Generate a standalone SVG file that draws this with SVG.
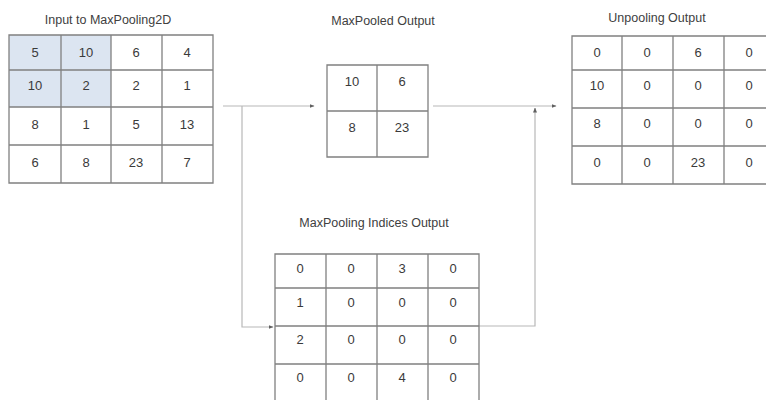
<svg xmlns="http://www.w3.org/2000/svg" width="766" height="400" viewBox="0 0 766 400">
<defs>
<style>
.grid{fill:none;stroke:#808080;stroke-width:1.3}
.cell{fill:#ffffff}
.hl{fill:#dce5f1}
.num{font-family:"Liberation Sans",Arial,sans-serif;font-size:13px;fill:#3a3a3a;text-anchor:middle}
.title{font-family:"Liberation Sans",Arial,sans-serif;font-size:12.5px;fill:#404040;text-anchor:middle}
.conn{fill:none;stroke:#b8b8b8;stroke-width:1.2}
</style>
<marker id="ah" viewBox="0 0 10 10" refX="9" refY="5" markerWidth="5" markerHeight="5" orient="auto" markerUnits="userSpaceOnUse">
<path d="M0,1 L10,5 L0,9 z" fill="#606060"/>
</marker>
</defs>
<rect width="766" height="400" fill="#ffffff"/>

<g id="connectors">
<path class="conn" d="M223,106 H314" marker-end="url(#ah)"/>
<path class="conn" d="M242,106 V327 H273" marker-end="url(#ah)"/>
<path class="conn" d="M433,106 H556" marker-end="url(#ah)"/>
<path class="conn" d="M479,326 H535 V108" marker-end="url(#ah)"/>
</g>

<g id="input">
<text class="title" x="108" y="24">Input to MaxPooling2D</text>
<rect class="hl" x="9" y="35" width="102" height="72"/>
<path class="grid" d="M9,35 H213 V183 H9 Z M61,35 V183 M111,35 V183 M162,35 V183 M9,70 H213 M9,107 H213 M9,145 H213"/>
<g class="num">
<text x="35" y="57">5</text><text x="86" y="57">10</text><text x="136" y="57">6</text><text x="187" y="57">4</text>
<text x="35" y="90">10</text><text x="86" y="90">2</text><text x="136" y="90">2</text><text x="187" y="90">1</text>
<text x="35" y="129">8</text><text x="86" y="129">1</text><text x="136" y="129">5</text><text x="187" y="129">13</text>
<text x="35" y="167">6</text><text x="86" y="167">8</text><text x="136" y="167">23</text><text x="187" y="167">7</text>
</g>
</g>

<g id="maxpooled">
<text class="title" x="383" y="25">MaxPooled Output</text>
<path class="grid" d="M327,65 H428 V157 H327 Z M377,65 V157 M327,111 H428"/>
<g class="num">
<text x="352" y="86">10</text><text x="402" y="86">6</text>
<text x="352" y="132">8</text><text x="402" y="132">23</text>
</g>
</g>

<g id="unpooling">
<text class="title" x="657" y="22">Unpooling Output</text>
<path class="grid" d="M775,36 H572 V184 H775 M622,36 V184 M673,36 V184 M724,36 V184 M572,70 H775 M572,108 H775 M572,146 H775"/>
<g class="num">
<text x="597" y="57">0</text><text x="647" y="57">0</text><text x="698" y="57">6</text><text x="749" y="57">0</text>
<text x="597" y="90">10</text><text x="647" y="90">0</text><text x="698" y="90">0</text><text x="749" y="90">0</text>
<text x="597" y="128">8</text><text x="647" y="128">0</text><text x="698" y="128">0</text><text x="749" y="128">0</text>
<text x="597" y="167">0</text><text x="647" y="167">0</text><text x="698" y="167">23</text><text x="749" y="167">0</text>
</g>
</g>

<g id="indices">
<text class="title" x="374" y="227">MaxPooling Indices Output</text>
<path class="grid" d="M275,410 V254 H479 V410 M326,254 V410 M377,254 V410 M428,254 V410 M275,288 H479 M275,326 H479 M275,364 H479 M275,402 H479"/>
<g class="num">
<text x="300" y="273">0</text><text x="351" y="273">0</text><text x="402" y="273">3</text><text x="453" y="273">0</text>
<text x="300" y="307">1</text><text x="351" y="307">0</text><text x="402" y="307">0</text><text x="453" y="307">0</text>
<text x="300" y="344">2</text><text x="351" y="344">0</text><text x="402" y="344">0</text><text x="453" y="344">0</text>
<text x="300" y="382">0</text><text x="351" y="382">0</text><text x="402" y="382">4</text><text x="453" y="382">0</text>
</g>
</g>
</svg>
